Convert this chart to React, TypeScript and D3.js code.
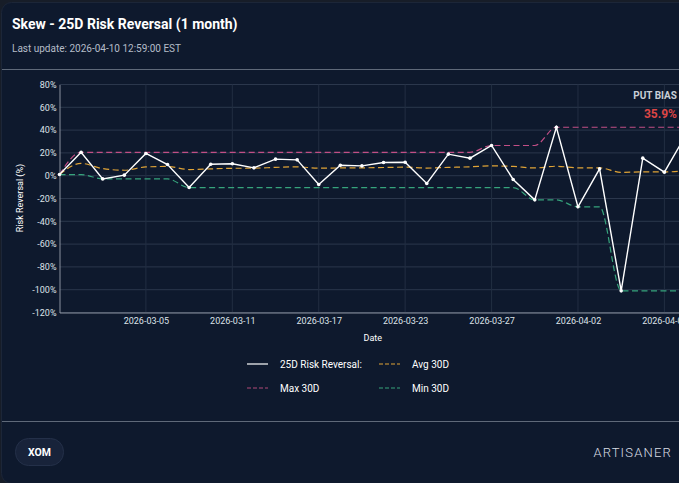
import React, { useRef, useEffect } from 'react';
import * as d3 from 'd3';

// Trading days shown on the x axis
const dates = [
  '2026-02-27', '2026-03-02', '2026-03-03', '2026-03-04', '2026-03-05',
  '2026-03-06', '2026-03-09', '2026-03-10', '2026-03-11', '2026-03-12',
  '2026-03-13', '2026-03-16', '2026-03-17', '2026-03-18', '2026-03-19',
  '2026-03-20', '2026-03-23', '2026-03-24', '2026-03-25', '2026-03-26',
  '2026-03-27', '2026-03-30', '2026-03-31', '2026-04-01', '2026-04-02',
  '2026-04-06', '2026-04-07', '2026-04-08', '2026-04-09', '2026-04-10',
];

// 25 delta risk reversal, in %
const riskReversal = [
  1.0, 20.5, -2.8, 0.5, 19.5, 9.8, -10.4, 10.1, 10.5, 6.9,
  14.5, 13.9, -7.7, 9.2, 8.6, 11.6, 11.8, -6.8, 18.9, 15.4,
  26.5, -3.3, -21.2, 42.5, -27.3, 6.0, -101.0, 15.4, 3.1, 35.9,
];

const avg30 = [
  1.0, 10.8, 6.2, 4.8, 7.7, 8.1, 5.4, 6.0, 6.5, 6.6,
  7.3, 7.8, 6.6, 6.8, 6.9, 7.2, 7.5, 6.7, 7.3, 7.8,
  8.6, 8.1, 6.8, 8.3, 6.9, 6.9, 2.9, 3.3, 3.3, 4.4,
];

const max30 = [
  1.0, 20.5, 20.5, 20.5, 20.5, 20.5, 20.5, 20.5, 20.5, 20.5,
  20.5, 20.5, 20.5, 20.5, 20.5, 20.5, 20.5, 20.5, 20.5, 20.5,
  26.5, 26.5, 26.5, 42.5, 42.5, 42.5, 42.5, 42.5, 42.5, 42.5,
];

const min30 = [
  1.0, 1.0, -2.8, -2.8, -2.8, -2.8, -10.4, -10.4, -10.4, -10.4,
  -10.4, -10.4, -10.4, -10.4, -10.4, -10.4, -10.4, -10.4, -10.4, -10.4,
  -10.4, -10.4, -21.2, -21.2, -27.3, -27.3, -101.0, -101.0, -101.0, -101.0,
];

const yTicks = [80, 60, 40, 20, 0, -20, -40, -60, -80, -100, -120];

const currentBias = 35.9;

const FONT = 'Roboto, sans-serif';

const SkewChart = ({ width = 679, height = 483 }) => {
  const svgRef = useRef<SVGSVGElement>(null);

  useEffect(() => {
    const svg = d3.select(svgRef.current);
    svg.selectAll('*').remove();
    svg.attr('width', 760).attr('height', height).style('display', 'block');

    // Card background
    svg.append('rect').attr('width', 760).attr('height', height).attr('fill', '#171d28');
    svg.append('rect')
      .attr('x', 1.5).attr('y', 2.5).attr('width', 780).attr('height', height - 2)
      .attr('rx', 10)
      .attr('fill', '#0e192d')
      .attr('stroke', '#1c2638');

    // Header
    svg.append('text')
      .attr('x', 12).attr('y', 29)
      .attr('font-family', FONT).attr('font-size', 14).attr('font-weight', 700)
      .attr('fill', '#ffffff')
      .text('Skew - 25D Risk Reversal (1 month)');

    svg.append('text')
      .attr('x', 12).attr('y', 52)
      .attr('font-family', FONT).attr('font-size', 10)
      .attr('fill', '#b4bcc8')
      .text('Last update: 2026-04-10 12:59:00 EST');

    svg.append('line')
      .attr('x1', 2).attr('x2', 760).attr('y1', 69.5).attr('y2', 69.5)
      .attr('stroke', '#5f6979');

    svg.append('line')
      .attr('x1', 2).attr('x2', 760).attr('y1', 421.5).attr('y2', 421.5)
      .attr('stroke', '#5f6979');

    // Scales
    const left = 59.5;
    const right = 686;
    const top = 84.5;
    const bottom = 312.5;

    const x = d3.scalePoint<string>().domain(dates).range([left, right]);
    const y = d3.scaleLinear().domain([-120, 80]).range([bottom, top]);

    const tickDates = dates.filter((_, i) => i > 0 && i % 4 === 0);

    // Grid
    svg.append('g')
      .selectAll('line')
      .data(yTicks)
      .enter()
      .append('line')
      .attr('x1', left).attr('x2', right)
      .attr('y1', d => y(d)).attr('y2', d => y(d))
      .attr('stroke', '#2b374c');

    svg.append('g')
      .selectAll('line')
      .data(tickDates)
      .enter()
      .append('line')
      .attr('x1', d => x(d)!).attr('x2', d => x(d)!)
      .attr('y1', top).attr('y2', bottom)
      .attr('stroke', '#222e42');

    // Axes
    const yAxis = svg.append('g')
      .attr('transform', `translate(${left},0)`)
      .call(d3.axisLeft(y).tickValues(yTicks).tickSize(0).tickSizeOuter(0).tickPadding(3).tickFormat(d => `${d}%`));
    yAxis.select('.domain').attr('stroke', '#8a929f');
    yAxis.selectAll('text')
      .attr('font-family', FONT).attr('font-size', 9).attr('fill', '#dde2e8');

    const xAxis = svg.append('g')
      .attr('transform', `translate(0,${bottom})`)
      .call(d3.axisBottom(x).tickValues(tickDates).tickSize(0).tickSizeOuter(0).tickPadding(5));
    xAxis.select('.domain').attr('stroke', '#8a929f');
    xAxis.selectAll('text')
      .attr('font-family', FONT).attr('font-size', 9).attr('fill', '#dde2e8');

    // Axis titles
    svg.append('text')
      .attr('x', (left + right) / 2).attr('y', 340.5)
      .attr('text-anchor', 'middle')
      .attr('font-family', FONT).attr('font-size', 9).attr('fill', '#ffffff')
      .text('Date');

    svg.append('text')
      .attr('transform', 'rotate(-90)')
      .attr('x', -198).attr('y', 23)
      .attr('text-anchor', 'middle')
      .attr('font-family', FONT).attr('font-size', 9).attr('fill', '#ffffff')
      .text('Risk Reversal (%)');

    // Reference lines
    const smooth = d3.line<number>()
      .x((_, i) => x(dates[i])!)
      .y(d => y(d))
      .curve(d3.curveMonotoneX);

    const refSeries = [
      { values: max30, color: '#c24f86' },
      { values: min30, color: '#36a47c' },
      { values: avg30, color: '#e0a437' },
    ];

    refSeries.forEach(s => {
      svg.append('path')
        .datum(s.values)
        .attr('d', smooth)
        .attr('fill', 'none')
        .attr('stroke', s.color)
        .attr('stroke-width', 1.2)
        .attr('stroke-dasharray', '6,3.5');
    });

    // Risk reversal line
    const straight = d3.line<number>()
      .x((_, i) => x(dates[i])!)
      .y(d => y(d));

    svg.append('path')
      .datum(riskReversal)
      .attr('d', straight)
      .attr('fill', 'none')
      .attr('stroke', '#ffffff')
      .attr('stroke-width', 1.4);

    svg.append('g')
      .selectAll('circle')
      .data(riskReversal)
      .enter()
      .append('circle')
      .attr('cx', (_, i) => x(dates[i])!)
      .attr('cy', d => y(d))
      .attr('r', 1.8)
      .attr('fill', '#ffffff');

    // Current bias badge
    svg.append('text')
      .attr('x', 677).attr('y', 95.5).attr('dy', '0.35em')
      .attr('text-anchor', 'end')
      .attr('font-family', FONT).attr('font-size', 10).attr('font-weight', 700)
      .attr('fill', '#c9ced6')
      .text('PUT BIAS');

    svg.append('text')
      .attr('x', 677).attr('y', 113.5).attr('dy', '0.35em')
      .attr('text-anchor', 'end')
      .attr('font-family', FONT).attr('font-size', 12).attr('font-weight', 700)
      .attr('fill', '#dc4545')
      .text(`${currentBias}%`);

    // Legend
    const legend = [
      { label: '25D Risk Reversal:', color: '#ffffff', dash: null, col: 0, row: 0 },
      { label: 'Avg 30D', color: '#e0a437', dash: '4,2', col: 1, row: 0 },
      { label: 'Max 30D', color: '#b04a78', dash: '4,2', col: 0, row: 1 },
      { label: 'Min 30D', color: '#36a47c', dash: '4,2', col: 1, row: 1 },
    ];

    const item = svg.append('g')
      .selectAll('g')
      .data(legend)
      .enter()
      .append('g')
      .attr('transform', d => `translate(${247 + d.col * 132},${364 + d.row * 24})`);

    item.append('line')
      .attr('x1', 0).attr('x2', 21)
      .attr('stroke', d => d.color)
      .attr('stroke-width', 1.2)
      .attr('stroke-dasharray', d => d.dash);

    item.append('text')
      .attr('x', 33).attr('dy', '0.35em')
      .attr('font-family', FONT).attr('font-size', 10).attr('fill', '#ffffff')
      .text(d => d.label);

    // Footer
    svg.append('rect')
      .attr('x', 15.5).attr('y', 438.5).attr('width', 48).attr('height', 27)
      .attr('rx', 13)
      .attr('fill', '#18233a')
      .attr('stroke', '#243049');

    svg.append('text')
      .attr('x', 39.5).attr('y', 452).attr('dy', '0.35em')
      .attr('text-anchor', 'middle')
      .attr('font-family', FONT).attr('font-size', 10.5).attr('font-weight', 700)
      .attr('fill', '#ffffff')
      .text('XOM');

    svg.append('text')
      .attr('x', 672).attr('y', 452).attr('dy', '0.35em')
      .attr('text-anchor', 'end')
      .attr('font-family', FONT).attr('font-size', 13).attr('font-weight', 300)
      .attr('letter-spacing', 1.2)
      .attr('fill', '#d8dde4')
      .text('ARTISANER');
  }, [width, height]);

  return (
    <div style={{ position: 'fixed', left: 0, top: 0, width, height, overflow: 'hidden', background: '#171d28' }}>
      <svg ref={svgRef}></svg>
    </div>
  );
};

export default function App() {
  return <SkewChart />;
}
